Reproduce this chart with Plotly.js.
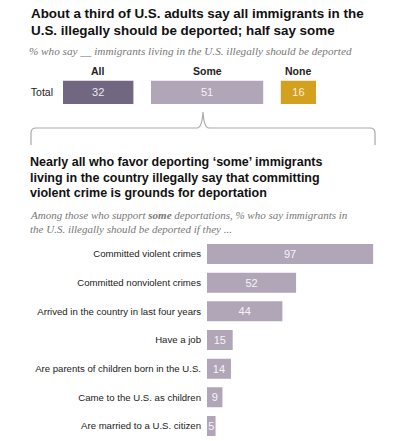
<!DOCTYPE html>
<html><head><meta charset="utf-8">
<script src="https://cdn.plot.ly/plotly-3.0.1.min.js"></script>
<style>html,body{margin:0;padding:0;background:#fff}</style>
</head><body><div id="chart" style="width:420px;height:441px"></div>
<script>
// ---- Data ----
const topCategories = ["All", "Some", "None"];
const topValues = [32, 51, 16];
const topRowLabel = ["Total"];
const reasonLabels = [
  "Committed violent crimes",
  "Committed nonviolent crimes",
  "Arrived in the country in last four years",
  "Have a job",
  "Are parents of children born in the U.S.",
  "Came to the U.S. as children",
  "Are married to a U.S. citizen"
];
const reasonValues = [97, 52, 44, 15, 14, 9, 5];

// ---- Styling ----
const W = 420, H = 441;
const px = x => x / W;
const py = y => 1 - y / H;
const topColors = ["#716780", "#b0a6b8", "#d4a020"];
const topTextColors = ["#ece8f0", "#f3f0f6", "#fbf1d6"];
const barColor = "#b0a6b8";
const GAP = 8; // visual gap between top segments, in axis units
const sansFont = "Liberation Sans, Arial, sans-serif";
const serifFont = "Liberation Serif, Georgia, serif";

// cumulative bases for the top segmented bar
const bases = [];
let acc = 0;
topValues.forEach((v, i) => { bases.push(acc); acc += v + GAP; });

const traces = topValues.map((v, i) => ({
  type: "bar", orientation: "h",
  x: [v], base: [bases[i]], y: topRowLabel,
  xaxis: "x", yaxis: "y",
  marker: { color: topColors[i], line: { width: 0 } },
  text: [String(v)], textposition: "inside", insidetextanchor: "middle",
  textfont: { family: sansFont, size: 11, color: topTextColors[i] },
  hoverinfo: "skip", showlegend: false, width: 1
}));

traces.push({
  type: "bar", orientation: "h",
  x: reasonValues, y: reasonLabels,
  xaxis: "x2", yaxis: "y2",
  marker: { color: barColor, line: { width: 0 } },
  text: reasonValues.map(String), textposition: "inside", insidetextanchor: "middle",
  textfont: { family: sansFont, size: 11, color: "#f6f3f8" },
  hoverinfo: "skip", showlegend: false
});

// bracket path (pixel -> paper)
function P(x, y) { return px(x).toFixed(4) + "," + py(y).toFixed(4); }
const bracket = "M" + P(31, 145) + " L" + P(31, 133) + " Q" + P(31, 128) + " " + P(36, 128) +
  " L" + P(197, 128) + " Q" + P(202, 128) + " " + P(203, 112) +
  " Q" + P(204, 128) + " " + P(209, 128) + " L" + P(370, 128) +
  " Q" + P(375, 128) + " " + P(375, 133) + " L" + P(375, 145);

const annotations = [];
function line(text, x, yc, size, family, color) {
  annotations.push({ text: text, x: px(x), y: py(yc), xanchor: "left", yanchor: "middle", align: "left",
    font: { family: family, size: size, color: color } });
}
line("<b>About a third of U.S. adults say all immigrants in the</b>", 29, 13.8, 13.4, sansFont, "#111");
line("<b>U.S. illegally should be deported; half say some</b>", 29, 30.3, 13.4, sansFont, "#111");
line("<i>% who say __ immigrants living in the U.S. illegally should be deported</i>", 27, 51, 11.2, serifFont, "#777");
line("<b>Nearly all who favor deporting ‘some’ immigrants</b>", 28, 162.3, 12.5, sansFont, "#111");
line("<b>living in the country illegally say that committing</b>", 28, 177.9, 12.5, sansFont, "#111");
line("<b>violent crime is grounds for deportation</b>", 28, 193.3, 12.5, sansFont, "#111");
line("<i>Among those who support <b>some</b> deportations, % who say immigrants in</i>", 28, 214.8, 11, serifFont, "#777");
line("<i>the U.S. illegally should be deported if they ...</i>", 28, 229.2, 11, serifFont, "#777");

// category headers above the top bar, from the data
topCategories.forEach((c, i) => {
  annotations.push({
    text: "<b>" + c + "</b>", xref: "x", yref: "paper",
    x: bases[i] + topValues[i] / 2, y: py(71), xanchor: "center", yanchor: "middle",
    font: { family: sansFont, size: 10.5, color: "#222" }
  });
});
annotations.forEach(a => { a.showarrow = false; if (!a.xref) a.xref = "paper"; if (!a.yref) a.yref = "paper"; });

const layout = {
  width: W, height: H,
  margin: { l: 0, r: 0, t: 0, b: 0 },
  paper_bgcolor: "#fff", plot_bgcolor: "#fff",
  barmode: "overlay",
  bargap: 0.3,
  xaxis: { domain: [px(63), px(63 + 115 * 2.2)], range: [0, 115], visible: false, fixedrange: true },
  yaxis: { domain: [py(104), py(80.5)], showgrid: false, zeroline: false, showline: false,
           ticks: "", ticklabelstandoff: 9, tickfont: { family: sansFont, size: 10.5, color: "#222" } },
  xaxis2: { domain: [px(207), px(207 + 100 * 1.713)], range: [0, 100], visible: false, anchor: "y2" },
  yaxis2: { domain: [py(440.3), py(239.7)], anchor: "x2", autorange: "reversed",
            showgrid: false, zeroline: false, showline: false, ticks: "", ticklabelstandoff: 5,
            tickfont: { family: sansFont, size: 9.6, color: "#222" } },
  uniformtext: { minsize: 11, mode: "show" },
  shapes: [{ type: "path", xref: "paper", yref: "paper", path: bracket,
             line: { color: "#a8a8a8", width: 1.2 } }],
  annotations: annotations,
  showlegend: false
};

Plotly.newPlot("chart", traces, layout, { displayModeBar: false, staticPlot: true });
</script></body></html>
